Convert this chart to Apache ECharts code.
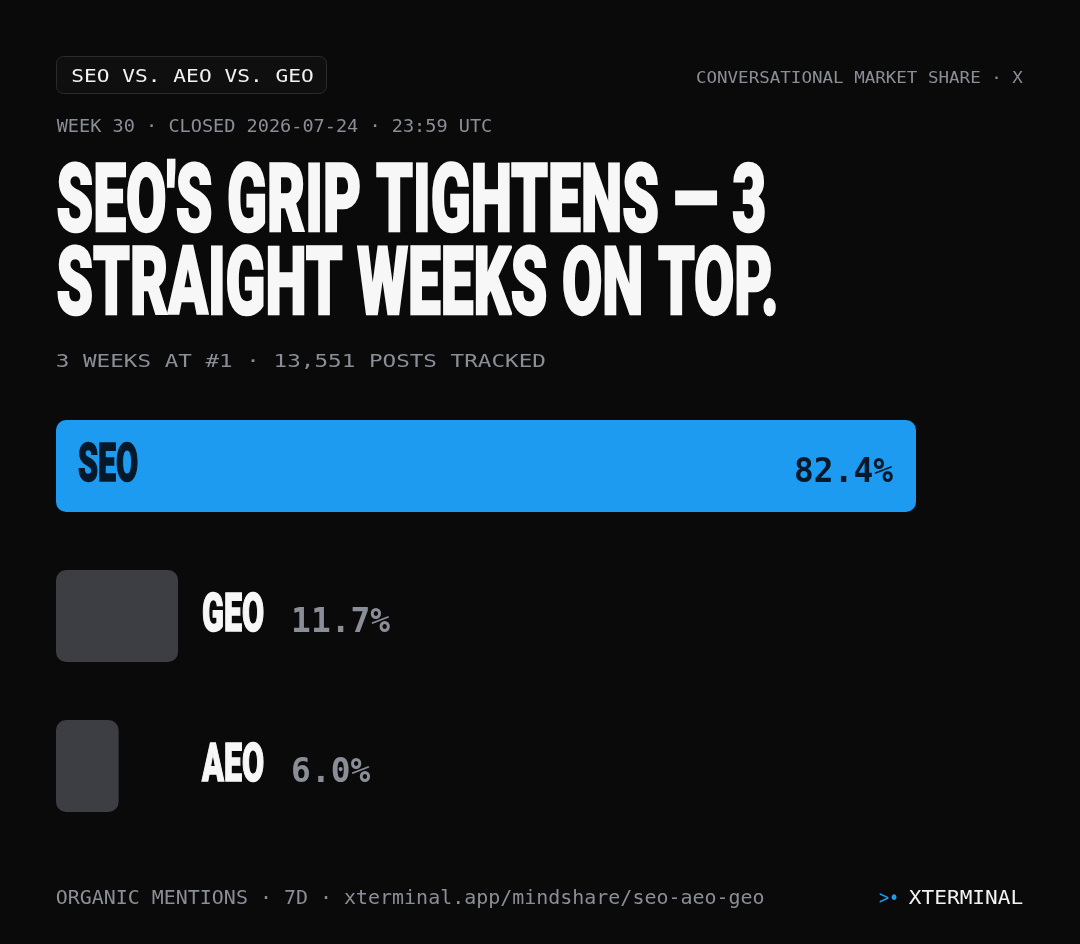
<!DOCTYPE html>
<html><head><meta charset="utf-8">
<script src="https://cdn.jsdelivr.net/npm/echarts@6/dist/echarts.min.js"></script>
<style>html,body{margin:0;padding:0;background:#0a0a0a;}#c{width:1080px;height:944px;}</style>
</head><body><div id="c"></div>
<script>
// ---- data ----
const categories = ['SEO', 'GEO', 'AEO'];
const shares = [82.4, 11.7, 6.0];
const badgeText = 'SEO VS. AEO VS. GEO';
const kicker = 'CONVERSATIONAL MARKET SHARE · X';
const weekLine = 'WEEK 30 · CLOSED 2026-07-24 · 23:59 UTC';
const titleLines = ["SEO'S GRIP TIGHTENS — 3", 'STRAIGHT WEEKS ON TOP.'];
const subtitle = '3 WEEKS AT #1 · 13,551 POSTS TRACKED';
const footerLeft = 'ORGANIC MENTIONS · 7D · xterminal.app/mindshare/seo-aeo-geo';
const brandMark = '>•';
const brandName = 'XTERMINAL';

// ---- styling ----
const BG = '#0a0a0a';
const BLUE = '#1d9bf0';
const GRAYBAR = '#3d3e43';
const MUTED = '#8a8e96';
const WHITE = '#f7f7f7';
const DARK = '#06192a';
const MONO = "'DejaVu Sans Mono', 'Liberation Mono', monospace";
const DISPLAY = "Roboto, 'Liberation Sans', sans-serif";

const mctx = document.createElement('canvas').getContext('2d');
function fontStr(weight, size, family) { return weight + ' ' + size + 'px ' + family; }
function capMetrics(weight, family) {
  mctx.font = fontStr(weight, 100, family);
  mctx.textBaseline = 'middle';
  mctx.textAlign = 'left';
  const m = mctx.measureText('H');
  const a = m.actualBoundingBoxAscent, d = m.actualBoundingBoxDescent;
  return { capRatio: (a + d) / 100, midOff: (d - a) / 2 / 100 };
}
function inkWidth(text, weight, size, family) {
  mctx.font = fontStr(weight, size, family);
  mctx.textBaseline = 'middle';
  mctx.textAlign = 'left';
  const m = mctx.measureText(text);
  return { w: m.actualBoundingBoxLeft + m.actualBoundingBoxRight, l: m.actualBoundingBoxLeft };
}
// fit text so that its ink spans [left,right] and caps span [capTop,capBottom]
function gtext(text, left, right, capTop, capBottom, weight, family, fill, strokeW) {
  strokeW = strokeW || 0;
  const cm = capMetrics(weight, family);
  const size = (capBottom - capTop - strokeW) / cm.capRatio;
  const ink = inkWidth(text, weight, size, family);
  const sx = (right - left - strokeW * 0.6) / ink.w;
  const capMid = (capTop + capBottom) / 2;
  const style = { text: text, fontFamily: family, fontWeight: weight, fontSize: size, fill: fill,
    align: 'left', verticalAlign: 'middle', textAlign: 'left', textVerticalAlign: 'middle' };
  if (strokeW) { style.stroke = fill; style.lineWidth = strokeW; style.lineJoin = 'miter'; }
  return { type: 'text', x: left + strokeW * 0.3 + ink.l * sx, y: capMid - cm.midOff * size,
    scaleX: sx, silent: true, style: style };
}

const leaderIdx = shares.indexOf(Math.max.apply(null, shares));
const otherMax = Math.max.apply(null, shares.filter((_, k) => k !== leaderIdx));
const dispM = capMetrics(900, DISPLAY);
const monoM = capMetrics('bold', MONO);
const NAME_STROKE = 1.5;
const NAME_SIZE = (40 - NAME_STROKE) / dispM.capRatio;
const nameScale = (60 - NAME_STROKE * 0.6) / inkWidth(categories[leaderIdx], 900, NAME_SIZE, DISPLAY).w;
const VAL_SIZE = 24 / monoM.capRatio;

const chart = echarts.init(document.getElementById('c'), null, { renderer: 'canvas' });
chart.setOption({
  backgroundColor: BG,
  animation: false,
  grid: { left: 56, right: 164, top: 391, bottom: 103, containLabel: false },
  xAxis: { type: 'value', min: 0, max: 'dataMax', show: false },
  yAxis: { type: 'category', data: categories, inverse: true, show: false },
  graphic: [
    { type: 'rect', silent: true, shape: { x: 56.5, y: 56.5, width: 270, height: 37, r: 7 },
      style: { fill: '#0f0f10', stroke: '#2a2b2f', lineWidth: 1 } },
    gtext(badgeText, 72.5, 313.5, 69, 82.5, 'normal', MONO, '#f2f2f2'),
    gtext(kicker, 697, 1023, 70.7, 82.7, 'normal', MONO, MUTED),
    gtext(weekLine, 56.7, 491, 120, 132.3, 'normal', MONO, MUTED),
    gtext(titleLines[0], 57, 765, 162, 232, 900, DISPLAY, WHITE, 2.5),
    gtext(titleLines[1], 57, 776, 245, 315, 900, DISPLAY, WHITE, 2.5),
    gtext(subtitle, 57, 545, 354, 367, 'normal', MONO, MUTED),
    gtext(footerLeft, 56.7, 764, 890, 904, 'normal', MONO, MUTED),
    gtext(brandMark, 879, 897, 890, 904, 'normal', MONO, BLUE),
    gtext(brandName, 908.7, 1022.7, 890, 904, 'normal', MONO, '#f2f2f2')
  ],
  series: [
    {
      type: 'bar',
      data: shares,
      barWidth: 92,
      silent: true,
      itemStyle: {
        borderRadius: 10,
        color: (p) => (p.dataIndex === leaderIdx ? BLUE : GRAYBAR)
      },
      z: 2
    },
    {
      type: 'custom',
      silent: true,
      z: 5,
      data: shares.map((v, i) => [v, i]),
      encode: { x: 0, y: 1 },
      renderItem: function (params, api) {
        const i = params.dataIndex;
        const v = api.value(0);
        const base = api.coord([0, i]);
        const end = api.coord([v, i]);
        const cy = base[1];
        const valText = v.toFixed(1) + '%';
        const nameY = cy - 4 - dispM.midOff * NAME_SIZE;
        const valY = cy + 4 - monoM.midOff * VAL_SIZE;
        const nameStyle = (fill) => ({ text: categories[i], fontFamily: DISPLAY, fontWeight: 900,
          fontSize: NAME_SIZE, fill: fill, stroke: fill, lineWidth: NAME_STROKE,
          align: 'left', verticalAlign: 'middle', textAlign: 'left', textVerticalAlign: 'middle' });
        const valStyle = (fill, align) => ({ text: valText, fontFamily: MONO, fontWeight: 'bold',
          fontSize: VAL_SIZE, fill: fill, align: align, verticalAlign: 'middle',
          textAlign: align, textVerticalAlign: 'middle' });
        if (i === leaderIdx) {
          return { type: 'group', children: [
            { type: 'text', x: base[0] + 22, y: nameY, scaleX: nameScale, style: nameStyle(DARK) },
            { type: 'text', x: end[0] - 23, y: valY, style: valStyle(DARK, 'right') }
          ] };
        }
        const colX = api.coord([otherMax, i])[0] + 24;
        return { type: 'group', children: [
          { type: 'text', x: colX, y: nameY, scaleX: nameScale, style: nameStyle(WHITE) },
          { type: 'text', x: colX + 89, y: valY, style: valStyle(MUTED, 'left') }
        ] };
      }
    }
  ]
});
</script>
</body></html>
